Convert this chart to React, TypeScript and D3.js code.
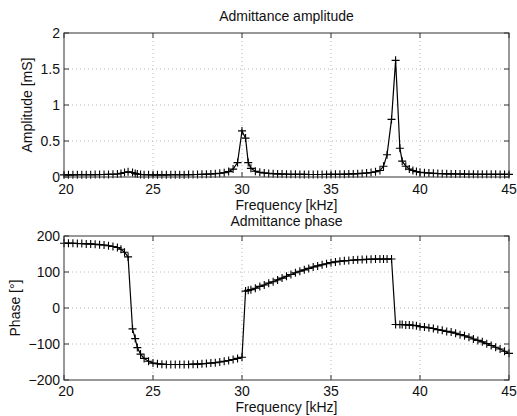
import React from "react";
import * as d3 from "d3";

const freq = [
  20.0, 20.25, 20.5, 20.75, 21.0, 21.25, 21.5, 21.75, 22.0, 22.25, 22.5, 22.75,
  23.0, 23.2, 23.4, 23.6,
  23.85, 24.0, 24.12, 24.3, 24.5, 24.75,
  25.0, 25.25, 25.5, 25.75, 26.0, 26.25, 26.5, 26.75, 27.0, 27.25, 27.5, 27.75, 28.0, 28.25, 28.5, 28.75, 29.0, 29.25, 29.5, 29.75,
  30.0, 30.2, 30.35, 30.5, 30.75,
  31.0, 31.25, 31.5, 31.75, 32.0, 32.25, 32.5, 32.75, 33.0, 33.25, 33.5, 33.75, 34.0, 34.25, 34.5, 34.75,
  35.0, 35.25, 35.5, 35.75, 36.0, 36.25, 36.5, 36.75, 37.0, 37.25, 37.5, 37.75,
  37.95, 38.15, 38.4, 38.63, 38.87,
  39.0, 39.2, 39.4, 39.6, 39.8,
  40.0, 40.25, 40.5, 40.75, 41.0, 41.25, 41.5, 41.75, 42.0, 42.25, 42.5, 42.75, 43.0, 43.25, 43.5, 43.75, 44.0, 44.25, 44.5, 44.75, 45.0,
];

const amplitude = [
  0.03, 0.03, 0.03, 0.031, 0.031, 0.032, 0.032, 0.033, 0.034, 0.035, 0.036, 0.038,
  0.042, 0.05, 0.062, 0.072,
  0.062, 0.048, 0.04, 0.035, 0.032, 0.031,
  0.03, 0.03, 0.03, 0.03, 0.031, 0.031, 0.031, 0.032, 0.033, 0.034, 0.035, 0.037, 0.039, 0.042, 0.046, 0.052, 0.06, 0.075, 0.11, 0.2,
  0.64, 0.54, 0.2, 0.12, 0.08,
  0.065, 0.056, 0.05, 0.046, 0.043, 0.041, 0.039, 0.038, 0.037, 0.036, 0.036, 0.035, 0.035, 0.035, 0.035, 0.036,
  0.036, 0.037, 0.038, 0.039, 0.041, 0.043, 0.046, 0.05, 0.055, 0.062, 0.072, 0.09,
  0.15, 0.31, 0.8, 1.62, 0.4,
  0.22, 0.15, 0.11, 0.09, 0.075,
  0.066, 0.06, 0.055, 0.051, 0.048, 0.046, 0.044, 0.043, 0.042, 0.041, 0.04, 0.039, 0.039, 0.038, 0.038, 0.037, 0.037, 0.037, 0.036, 0.036, 0.036,
];

const phase = [
  180, 180, 180, 179, 179, 178, 178, 177, 176, 175, 173, 171,
  168, 163, 155, 142,
  -58, -85, -110, -128, -140, -148,
  -153, -155, -156, -157, -157, -157, -157, -157, -157, -156, -156, -155, -154, -153, -152, -150, -148, -146, -143, -140,
  -137, 47, 49, 51, 55,
  60, 64, 69, 73, 78, 83, 88, 93, 98, 102, 106, 110, 114, 117, 120, 123,
  126, 128, 130, 131, 132, 133, 134, 134.5, 135, 135.5, 136, 136,
  136, 136, 136, -46, -46,
  -46, -47, -47, -48, -49,
  -52, -53, -55, -57, -60, -62, -65, -67, -70, -74, -77, -81, -86, -90, -94, -99, -104, -109, -114, -120, -126,
];

const xTicks = [20, 25, 30, 35, 40, 45];
const ampTicks = [0, 0.5, 1, 1.5, 2];
const ampTickLabels = ["0", "0.5", "1", "1.5", "2"];
const phaseTicks = [-200, -100, 0, 100, 200];
const phaseTickLabels = ["\u2212200", "\u2212100", "0", "100", "200"];

const FONT = "'Liberation Sans', Arial, Helvetica, sans-serif";

type PanelProps = {
  top: number;
  bottom: number;
  domain: [number, number];
  values: number[];
  yTicks: number[];
  yLabels: string[];
  title: string;
  titleY: number;
  yLabel: string;
  yLabelX: number;
  tickLabelY: number;
  xLabelY: number;
};

const LEFT = 64;
const RIGHT = 509;

function Panel(p: PanelProps) {
  const x = d3.scaleLinear().domain([20, 45]).range([LEFT, RIGHT]);
  const y = d3.scaleLinear().domain(p.domain).range([p.bottom, p.top]);
  const pts = freq.map((f, i) => [f, p.values[i]] as [number, number]);
  const line = d3
    .line<[number, number]>()
    .x((d) => x(d[0]))
    .y((d) => y(d[1]));
  const tl = 5;
  const ms = 4;
  const cx = (LEFT + RIGHT) / 2;
  const cy = (p.top + p.bottom) / 2;
  return (
    <g>
      {xTicks.slice(1, -1).map((t) => (
        <line key={"gx" + t} x1={x(t)} x2={x(t)} y1={p.top} y2={p.bottom} stroke="#b8b8b8" strokeWidth={1} strokeDasharray="1,3" />
      ))}
      {p.yTicks.slice(1, -1).map((t) => (
        <line key={"gy" + t} x1={LEFT} x2={RIGHT} y1={y(t)} y2={y(t)} stroke="#b8b8b8" strokeWidth={1} strokeDasharray="1,3" />
      ))}
      {xTicks.map((t) => (
        <g key={"tx" + t}>
          <line x1={x(t)} x2={x(t)} y1={p.bottom} y2={p.bottom - tl} stroke="#333" />
          <line x1={x(t)} x2={x(t)} y1={p.top} y2={p.top + tl} stroke="#333" />
          <text x={x(t) + (t === 20 ? 2 : 0)} y={p.tickLabelY} textAnchor="middle" fontSize={14} fontFamily={FONT} fill="#111">
            {t}
          </text>
        </g>
      ))}
      {p.yTicks.map((t, i) => (
        <g key={"ty" + t}>
          <line x1={LEFT} x2={LEFT + tl} y1={y(t)} y2={y(t)} stroke="#333" />
          <line x1={RIGHT} x2={RIGHT - tl} y1={y(t)} y2={y(t)} stroke="#333" />
          <text x={60} y={y(t) + 4.5} textAnchor="end" fontSize={14} fontFamily={FONT} fill="#111">
            {p.yLabels[i]}
          </text>
        </g>
      ))}
      <path d={line(pts) || ""} fill="none" stroke="#000" strokeWidth={1.2} />
      {pts.map((d, i) => (
        <path
          key={"m" + i}
          d={`M${x(d[0]) - ms},${y(d[1])}H${x(d[0]) + ms}M${x(d[0])},${y(d[1]) - ms}V${y(d[1]) + ms}`}
          stroke="#000"
          strokeWidth={1.1}
          fill="none"
        />
      ))}
      <rect x={LEFT} y={p.top} width={RIGHT - LEFT} height={p.bottom - p.top} fill="none" stroke="#333" strokeWidth={1} />
      <text x={cx} y={p.titleY} textAnchor="middle" fontSize={14} fontFamily={FONT} fill="#111">
        {p.title}
      </text>
      <text x={cx} y={p.xLabelY} textAnchor="middle" fontSize={14} fontFamily={FONT} fill="#111">
        Frequency [kHz]
      </text>
      <text
        transform={`translate(${p.yLabelX},${cy}) rotate(-90)`}
        textAnchor="middle"
        fontSize={14}
        fontFamily={FONT}
        fill="#111"
      >
        {p.yLabel}
      </text>
    </g>
  );
}

export default function App() {
  return (
    <svg
      width={517}
      height={416}
      style={{ position: "absolute", left: 0, top: 0, background: "#fff" }}
    >
      <rect x={0} y={0} width={517} height={416} fill="#fff" />
      <Panel
        top={33}
        bottom={177}
        domain={[0, 2]}
        values={amplitude}
        yTicks={ampTicks}
        yLabels={ampTickLabels}
        title="Admittance amplitude"
        titleY={21}
        yLabel="Amplitude [mS]"
        yLabelX={32}
        tickLabelY={194}
        xLabelY={210}
      />
      <Panel
        top={236}
        bottom={380}
        domain={[-200, 200]}
        values={phase}
        yTicks={phaseTicks}
        yLabels={phaseTickLabels}
        title="Admittance phase"
        titleY={226}
        yLabel="Phase [°]"
        yLabelX={20}
        tickLabelY={396}
        xLabelY={412}
      />
    </svg>
  );
}
